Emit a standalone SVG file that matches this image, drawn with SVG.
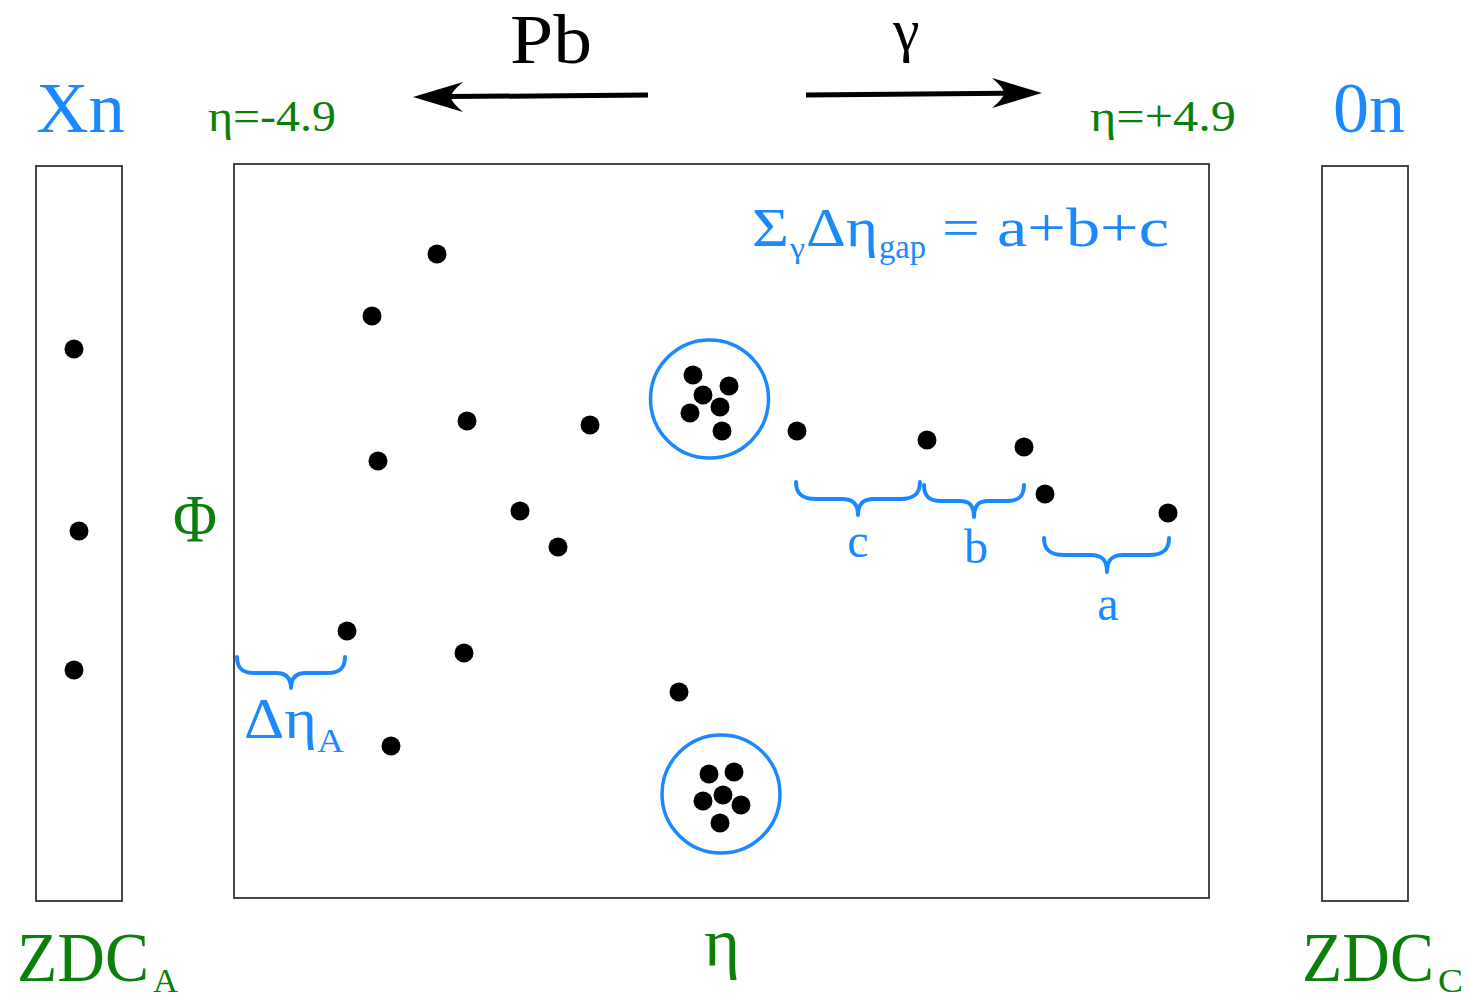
<svg xmlns="http://www.w3.org/2000/svg" width="1469" height="999" viewBox="0 0 1469 999">
<style>
.box{fill:none;stroke:#333;stroke-width:1.8}
.dot{fill:#000}
.ring{fill:none;stroke:#1a88ff;stroke-width:3.5}
.brace{fill:none;stroke:#1a88ff;stroke-width:4;stroke-linecap:round;stroke-linejoin:round}
.t{font-family:"Liberation Serif","DejaVu Serif",serif}
.blue{fill:#1a88ff}
.green{fill:#0a800a}
.blk{fill:#000}
.arr{stroke:#000;stroke-width:5;fill:none}
</style>
<rect width="1469" height="999" fill="#fff"/>
<g id="zdcA">
<rect class="box" x="36" y="166" width="86" height="735"/>
<circle class="dot" cx="74" cy="349" r="9.5"/>
<circle class="dot" cx="79" cy="531" r="9.5"/>
<circle class="dot" cx="74" cy="670" r="9.5"/>
<text class="t blue" x="36" y="132" font-size="72" textLength="89" lengthAdjust="spacingAndGlyphs">Xn</text>
<text class="t green" x="17" y="981" font-size="70" textLength="132" lengthAdjust="spacingAndGlyphs">ZDC</text>
<text class="t green" x="153" y="992" font-size="34" textLength="25" lengthAdjust="spacingAndGlyphs">A</text>
</g>
<g id="zdcC">
<rect class="box" x="1322" y="166" width="86" height="735"/>
<text class="t blue" x="1333" y="132" font-size="72" textLength="72" lengthAdjust="spacingAndGlyphs">0n</text>
<text class="t green" x="1302" y="981" font-size="70" textLength="132" lengthAdjust="spacingAndGlyphs">ZDC</text>
<text class="t green" x="1438" y="992" font-size="34" textLength="25" lengthAdjust="spacingAndGlyphs">C</text>
</g>
<g id="detector">
<rect class="box" x="234" y="164" width="975" height="734"/>
<text class="t green" x="208" y="131" font-size="44" textLength="128" lengthAdjust="spacingAndGlyphs">η=-4.9</text>
<text class="t green" x="1090" y="131" font-size="44" textLength="146" lengthAdjust="spacingAndGlyphs">η=+4.9</text>
<text class="t green" x="173" y="541" font-size="68" textLength="44" lengthAdjust="spacingAndGlyphs">Φ</text>
<text class="t green" x="704" y="966" font-size="68" textLength="36" lengthAdjust="spacingAndGlyphs">η</text>
</g>
<g id="particles">
<circle class="dot" cx="437" cy="254" r="9.5"/>
<circle class="dot" cx="372" cy="316" r="9.5"/>
<circle class="dot" cx="467" cy="421" r="9.5"/>
<circle class="dot" cx="590" cy="425" r="9.5"/>
<circle class="dot" cx="378" cy="461" r="9.5"/>
<circle class="dot" cx="520" cy="511" r="9.5"/>
<circle class="dot" cx="558" cy="547" r="9.5"/>
<circle class="dot" cx="347" cy="631" r="9.5"/>
<circle class="dot" cx="464" cy="653" r="9.5"/>
<circle class="dot" cx="391" cy="746" r="9.5"/>
<circle class="dot" cx="679" cy="692" r="9.5"/>
<circle class="dot" cx="797" cy="431" r="9.5"/>
<circle class="dot" cx="927" cy="440" r="9.5"/>
<circle class="dot" cx="1024" cy="447" r="9.5"/>
<circle class="dot" cx="1045" cy="494" r="9.5"/>
<circle class="dot" cx="1168" cy="513" r="9.5"/>
</g>
<g id="jet1">
<circle class="ring" cx="709.5" cy="399" r="59"/>
<circle class="dot" cx="693" cy="375" r="9.5"/>
<circle class="dot" cx="729" cy="386" r="9.5"/>
<circle class="dot" cx="703" cy="395" r="9.5"/>
<circle class="dot" cx="690" cy="413" r="9.5"/>
<circle class="dot" cx="720" cy="407" r="9.5"/>
<circle class="dot" cx="722" cy="431" r="9.5"/>
</g>
<g id="jet2">
<circle class="ring" cx="721" cy="794" r="59"/>
<circle class="dot" cx="709" cy="774" r="9.5"/>
<circle class="dot" cx="734" cy="772" r="9.5"/>
<circle class="dot" cx="723" cy="795" r="9.5"/>
<circle class="dot" cx="703" cy="801" r="9.5"/>
<circle class="dot" cx="741" cy="805" r="9.5"/>
<circle class="dot" cx="720" cy="823" r="9.5"/>
</g>
<g id="formula">
<text class="t blue" x="752" y="246" font-size="54" textLength="37" lengthAdjust="spacingAndGlyphs">Σ</text>
<text class="t blue" x="790" y="258" font-size="30" textLength="15" lengthAdjust="spacingAndGlyphs">γ</text>
<text class="t blue" x="806" y="246" font-size="54" textLength="72" lengthAdjust="spacingAndGlyphs">Δη</text>
<text class="t blue" x="879" y="258" font-size="34" textLength="47" lengthAdjust="spacingAndGlyphs">gap</text>
<text class="t blue" x="942" y="246" font-size="54" textLength="38" lengthAdjust="spacingAndGlyphs">=</text>
<text class="t blue" x="997" y="246" font-size="54" textLength="172" lengthAdjust="spacingAndGlyphs">a+b+c</text>
</g>
<g id="connectors">
<path class="arr" d="M648,95 L450,96.6"/>
<path d="M413,97 L463,82 Q451,92 451,97 Q451,102 463,112 Z" fill="#000"/>
<path class="arr" d="M806,95 L1005,93.3"/>
<path d="M1042,93 L992,78 Q1004,88 1004,93 Q1004,98 992,108 Z" fill="#000"/>
<path class="brace" d="M796,482 C796,494 802,499 816,499 L842,499 C852,499 858,503 858,515 C858,503 864,499 874,499 L900,499 C914,499 920,494 920,482"/>
<path class="brace" d="M924,485 C924,496 929,501 941,501 L960,501 C969,501 974,505 974,517 C974,505 979,501 988,501 L1007,501 C1019,501 1024,496 1024,485"/>
<path class="brace" d="M1044,538 C1044,550 1050,555 1064,555 L1091,555 C1101,555 1107,559 1107,572 C1107,559 1113,555 1123,555 L1149,555 C1163,555 1169,550 1169,538"/>
<path class="brace" d="M237,657 C237,668 242,673 255,673 L276,673 C285,673 291,677 291,688 C291,677 297,673 306,673 L327,673 C340,673 345,668 345,657"/>
</g>
<g id="labels">
<text class="t blk" x="510" y="63" font-size="70" textLength="82" lengthAdjust="spacingAndGlyphs">Pb</text>
<text class="t blk" x="893" y="50" font-size="60">γ</text>
<text class="t blue" x="858" y="557" font-size="48" text-anchor="middle">c</text>
<text class="t blue" x="976" y="563" font-size="48" text-anchor="middle">b</text>
<text class="t blue" x="1108" y="620" font-size="48" text-anchor="middle">a</text>
<text class="t blue" x="244" y="738" font-size="58" textLength="73" lengthAdjust="spacingAndGlyphs">Δη</text>
<text class="t blue" x="317" y="752" font-size="34" textLength="27" lengthAdjust="spacingAndGlyphs">A</text>
</g>
</svg>
